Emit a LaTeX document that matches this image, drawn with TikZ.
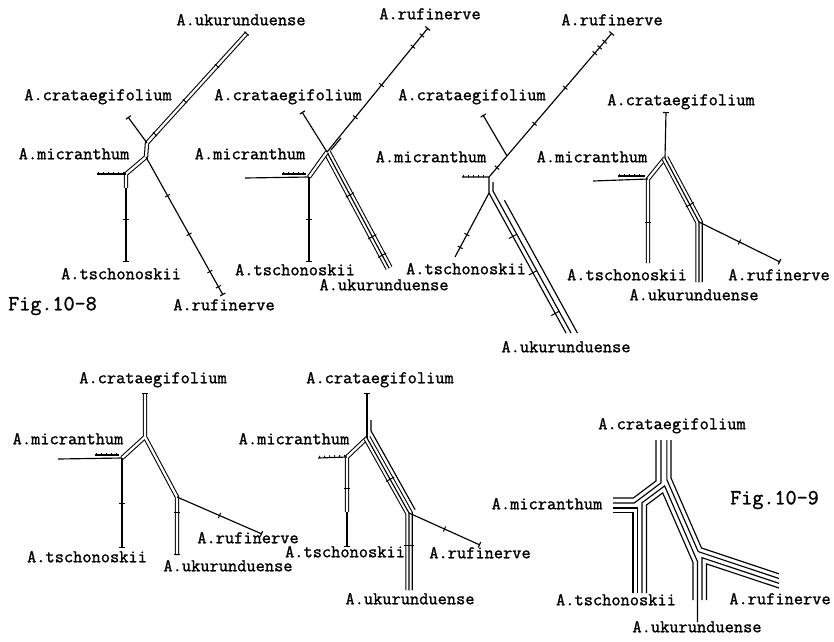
\documentclass[tikz,border=0pt]{standalone}
\usepackage{fontspec}
\setmonofont{Latin Modern Mono}[FakeBold=1.3]
\usetikzlibrary{decorations.markings,arrows.meta}
\tikzset{
  edge/.style={line width=1.15pt},
  dbl/.style={line width=1.05pt, double, double distance=2.3pt},
  trp/.style={line width=1.05pt, double, double distance=5.4pt},
  lbl/.style={font=\ttfamily\fontsize{17.9}{20}\selectfont, inner sep=0pt, text height=0.6em, text depth=0.15em},
  figlbl/.style={font=\ttfamily\fontsize{21.5}{24}\selectfont, inner sep=0pt, anchor=west, text height=0.6em, text depth=0.15em},
  tk/.style={postaction={decorate,decoration={markings,mark=at position #1 with {\draw[line width=1pt] (0,-2.8pt) -- (0,2.8pt);}}}},
  tkw/.style={postaction={decorate,decoration={markings,mark=at position #1 with {\draw[line width=1pt] (0,-4.6pt) -- (0,4.6pt);}}}},
  hatch/.style={postaction={decorate,decoration={markings,mark=between positions 0.06 and 0.96 step 5pt with {\draw[line width=0.9pt] (0,0) -- (0,2.2pt);}}}},
  endbar/.style={-{Bar[width=6pt]}},
}
\begin{document}
\begin{tikzpicture}[x=1pt,y=-1pt]
\useasboundingbox (0,0) rectangle (834,641);
\fill[white] (0,0) rectangle (834,641);

% ================= Fig.10-8, first tree
\coordinate (aU) at (247,33);
\coordinate (aJt) at (147,143);
\coordinate (aJ) at (146,157);
\coordinate (aMc) at (126,174);
\coordinate (aMt) at (97,174);
\coordinate (aTd) at (126,188);
\coordinate (aT) at (126,262);
\coordinate (aC) at (128,117);
\coordinate (aR) at (223,295);
\draw[dbl] (aU) -- (aJt) -- (aJ) -- (aMc) -- (aTd);
\draw[edge,endbar] (aTd) -- (aT);
\draw[edge] (aMt) -- (aMc);
\draw[edge,endbar] (aJt) -- (aC);
\draw[edge,endbar] (aJ) -- (aR);
\path[tk=0.005,tk=0.3,tk=0.62,tk=0.92] (aU) -- (aJt);
\path[tk=0.28,tk=0.56,tk=0.83,tk=0.94] (aJ) -- (aR);
\path[tk=0.43] (aTd) -- (aT);
\path[hatch] (aMt) -- (aMc);
\node[lbl] (aUl) at (241,23) {A.ukurunduense};
\node[lbl] (aCl) at (98,98) {A.crataegifolium};
\node[lbl] (aMl) at (74,157) {A.micranthum};
\node[lbl] (aTl) at (121,277) {A.tschonoskii};
\node[lbl] (aRl) at (224,308) {A.rufinerve};
\node[figlbl] (fig8) at (8,308) {Fig.10-8};

% ================= second tree
\coordinate (bR) at (428,28);
\coordinate (bJ) at (327,152);
\coordinate (bC) at (302,112);
\coordinate (bMc) at (309,177);
\coordinate (bMt) at (245,178);
\coordinate (bT) at (309,262);
\coordinate (bU) at (389,268);
\coordinate (bMa) at (282,174);
\coordinate (bMb) at (306,174);
\coordinate (bRa) at (331,150);
\coordinate (bRb) at (341,138);
\draw[trp] (bJ) -- (bU);
\draw[edge] (bJ) -- (bU);
\draw[dbl] (bJ) -- (bMc);
\draw[edge,endbar] (bJ) -- (bR);
\draw[edge,endbar] (bJ) -- (bC);
\draw[edge] (bMt) -- (bMc);
\draw[edge] (bMa) -- (bMb);
\draw[edge,endbar] (bMc) -- (bT);
\draw[edge] (bRa) -- (bRb);
\path[tk=0.28,tk=0.54,tk=0.85,tk=0.94] (bJ) -- (bR);
\path[tkw=0.37,tkw=0.73,tkw=0.89] (bJ) -- (bU);
\path[tk=0.5] (bMc) -- (bT);
\path[hatch] (bMa) -- (bMb);
\node[lbl] (bRl) at (430,17) {A.rufinerve};
\node[lbl] (bCl) at (288,98) {A.crataegifolium};
\node[lbl] (bMl) at (250,157) {A.micranthum};
\node[lbl] (bTl) at (295,273) {A.tschonoskii};
\node[lbl] (bUl) at (384,288) {A.ukurunduense};

% ================= third tree
\coordinate (cR) at (612,33);
\coordinate (cJ) at (489,177);
\coordinate (cC) at (483,115);
\coordinate (cCm) at (507,156);
\coordinate (cM) at (462,177);
\coordinate (cJb) at (489,193);
\coordinate (cT) at (455,257);
\coordinate (cU) at (566,333);
\coordinate (cLa) at (493,182);
\coordinate (cLb) at (493,191);
\coordinate (cLc) at (571,333);
\coordinate (cKa) at (504.4,200.2);
\coordinate (cKb) at (577.4,333);
\draw[edge,endbar] (cJ) -- (cR);
\draw[edge,endbar] (cCm) -- (cC);
\draw[edge] (cM) -- (cJ) -- (cJb) -- (cU);
\draw[edge] (cJb) -- (cT);
\draw[edge] (cLa) -- (cLb) -- (cLc);
\draw[edge] (cKa) -- (cKb);
\path[tk=0.065,tk=0.37,tk=0.62,tk=0.86,tk=0.9,tk=0.94] (cJ) -- (cR);
\path[tk=0.65,tk=0.85] (cJb) -- (cT);
\path[tkw=0.31,tkw=0.57,tkw=0.86] (cJb) -- (cU);
\path[hatch] (cM) -- (cJ);
\node[lbl] (cRl) at (612,23) {A.rufinerve};
\node[lbl] (cCl) at (472,98) {A.crataegifolium};
\node[lbl] (cMl) at (431,160) {A.micranthum};
\node[lbl] (cTl) at (466,272) {A.tschonoskii};
\node[lbl] (cUl) at (566,350) {A.ukurunduense};

% ================= fourth tree
\coordinate (dC) at (666,112);
\coordinate (dJ) at (665,158);
\coordinate (dB) at (648,179);
\coordinate (dM) at (593,181);
\coordinate (dT) at (648,263);
\coordinate (dD) at (699,222);
\coordinate (dU) at (699,282);
\coordinate (dR) at (780,262);
\coordinate (dMa) at (618,176);
\coordinate (dMb) at (645,176);
\draw[dbl] (dT) -- (dB) -- (dJ);
\draw[trp] (dJ) -- (dD) -- (dU);
\draw[edge] (dJ) -- (dD) -- (dU);
\draw[edge,endbar] (dJ) -- (dC);
\draw[edge] (dM) -- (dB);
\draw[edge] (dMa) -- (dMb);
\draw[edge,endbar] (dD) -- (dR);
\path[tk=0.5] (dD) -- (dR);
\path[tk=0.52] (dB) -- (dT);
\path[tkw=0.73] (dJ) -- (dD);
\path[hatch] (dMa) -- (dMb);
\node[lbl] (dCl) at (681,103) {A.crataegifolium};
\node[lbl] (dMl) at (592,160) {A.micranthum};
\node[lbl] (dTl) at (627,278) {A.tschonoskii};
\node[lbl] (dUl) at (694,298) {A.ukurunduense};
\node[lbl] (dRl) at (779,278) {A.rufinerve};

% ================= fifth tree
\coordinate (eC) at (145,393);
\coordinate (eJ) at (145,437);
\coordinate (eB) at (122,458);
\coordinate (eM) at (58,459);
\coordinate (eT) at (122,548);
\coordinate (eD) at (177,497);
\coordinate (eU) at (177,555);
\coordinate (eR) at (262,534);
\coordinate (eMa) at (95,455);
\coordinate (eMb) at (119,455);
\draw[dbl] (eC) -- (eJ) -- (eD) -- (eU) (eJ) -- (eB);
\draw[edge] (eM) -- (eB);
\draw[edge] (eMa) -- (eMb);
\draw[edge,endbar] (eB) -- (eT);
\draw[edge,endbar] (eD) -- (eR);
\path[tk=0.005] (eC) -- (eJ);
\path[tk=0.26,tk=0.995] (eD) -- (eU);
\path[tk=0.5] (eB) -- (eT);
\path[tk=0.5] (eD) -- (eR);
\path[hatch] (eMa) -- (eMb);
\node[lbl] (eCl) at (153,381) {A.crataegifolium};
\node[lbl] (eMl) at (68,442) {A.micranthum};
\node[lbl] (eTl) at (87,560) {A.tschonoskii};
\node[lbl] (eUl) at (228,569) {A.ukurunduense};
\node[lbl] (eRl) at (248,541) {A.rufinerve};

% ================= sixth tree
\coordinate (fC) at (367,393);
\coordinate (fJ) at (367,438);
\coordinate (fB) at (347,457);
\coordinate (fM) at (318,458);
\coordinate (fTd) at (347,512);
\coordinate (fT) at (347,547);
\coordinate (fD) at (409,513);
\coordinate (fU) at (409,590);
\coordinate (fR) at (480,545);
\coordinate (fOa) at (371,420);
\coordinate (fOb) at (371,430.8);
\coordinate (fOc) at (415.1,509.6);
\draw[dbl] (fTd) -- (fB) -- (fJ);
\draw[trp] (fJ) -- (fD) -- (fU);
\draw[edge] (fJ) -- (fD) -- (fU);
\draw[edge,endbar] (fJ) -- (fC);
\draw[edge] (fOa) -- (fOb) -- (fOc);
\draw[edge] (fM) -- (fB);
\draw[edge,endbar] (fTd) -- (fT);
\draw[edge,endbar] (fD) -- (fR);
\path[tkw=0.55] (fJ) -- (fD);
\path[tkw=0.42] (fD) -- (fU);
\path[tk=0.5] (fD) -- (fR);
\path[tk=0.35] (fB) -- (fT);
\path[hatch] (fM) -- (fB);
\node[lbl] (fCl) at (380,381) {A.crataegifolium};
\node[lbl] (fMl) at (294,442) {A.micranthum};
\node[lbl] (fTl) at (345,555) {A.tschonoskii};
\node[lbl] (fUl) at (410,602) {A.ukurunduense};
\node[lbl] (fRl) at (480,556) {A.rufinerve};

% ================= Fig.10-9: all ten leaf-to-leaf paths
\begin{scope}[edge]
% crataegifolium to micranthum
\draw (656,440) -- (656,481) -- (633.3,498) -- (613,498);
\draw (661,440) -- (661,482.9) -- (634.2,503) -- (613,503);
% micranthum to tschonoskii
\draw (613,508) -- (637.5,508) -- (637.5,593);
\draw (613,512.5) -- (633,512.5) -- (633,593);
% tschonoskii to ukurunduense
\draw (642,593) -- (642,502.8) -- (664.6,485.9) -- (697.5,561.6) -- (697.5,622);
\draw (646.5,593) -- (646.5,505) -- (662.7,492.9) -- (693,562.5) -- (693,600);
% crataegifolium to rufinerve
\draw (666.9,440) -- (666.9,479.8) -- (698.2,551.6) -- (779,578.5);
\draw (671,440) -- (671,478) -- (701.5,548) -- (779,573.8);
% ukurunduense to rufinerve
\draw (702,600) -- (702,557.7) -- (779,583.3);
\draw (706.5,600) -- (706.5,563.9) -- (779,588);
\end{scope}
\node[lbl] (gCl) at (672,427) {A.crataegifolium};
\node[lbl] (gMl) at (547,507) {A.micranthum};
\node[lbl] (gTl) at (616,603) {A.tschonoskii};
\node[lbl] (gUl) at (697,630) {A.ukurunduense};
\node[lbl] (gRl) at (780,602) {A.rufinerve};
\node[figlbl] (fig9) at (730,502) {Fig.10-9};
\end{tikzpicture}
\end{document}
